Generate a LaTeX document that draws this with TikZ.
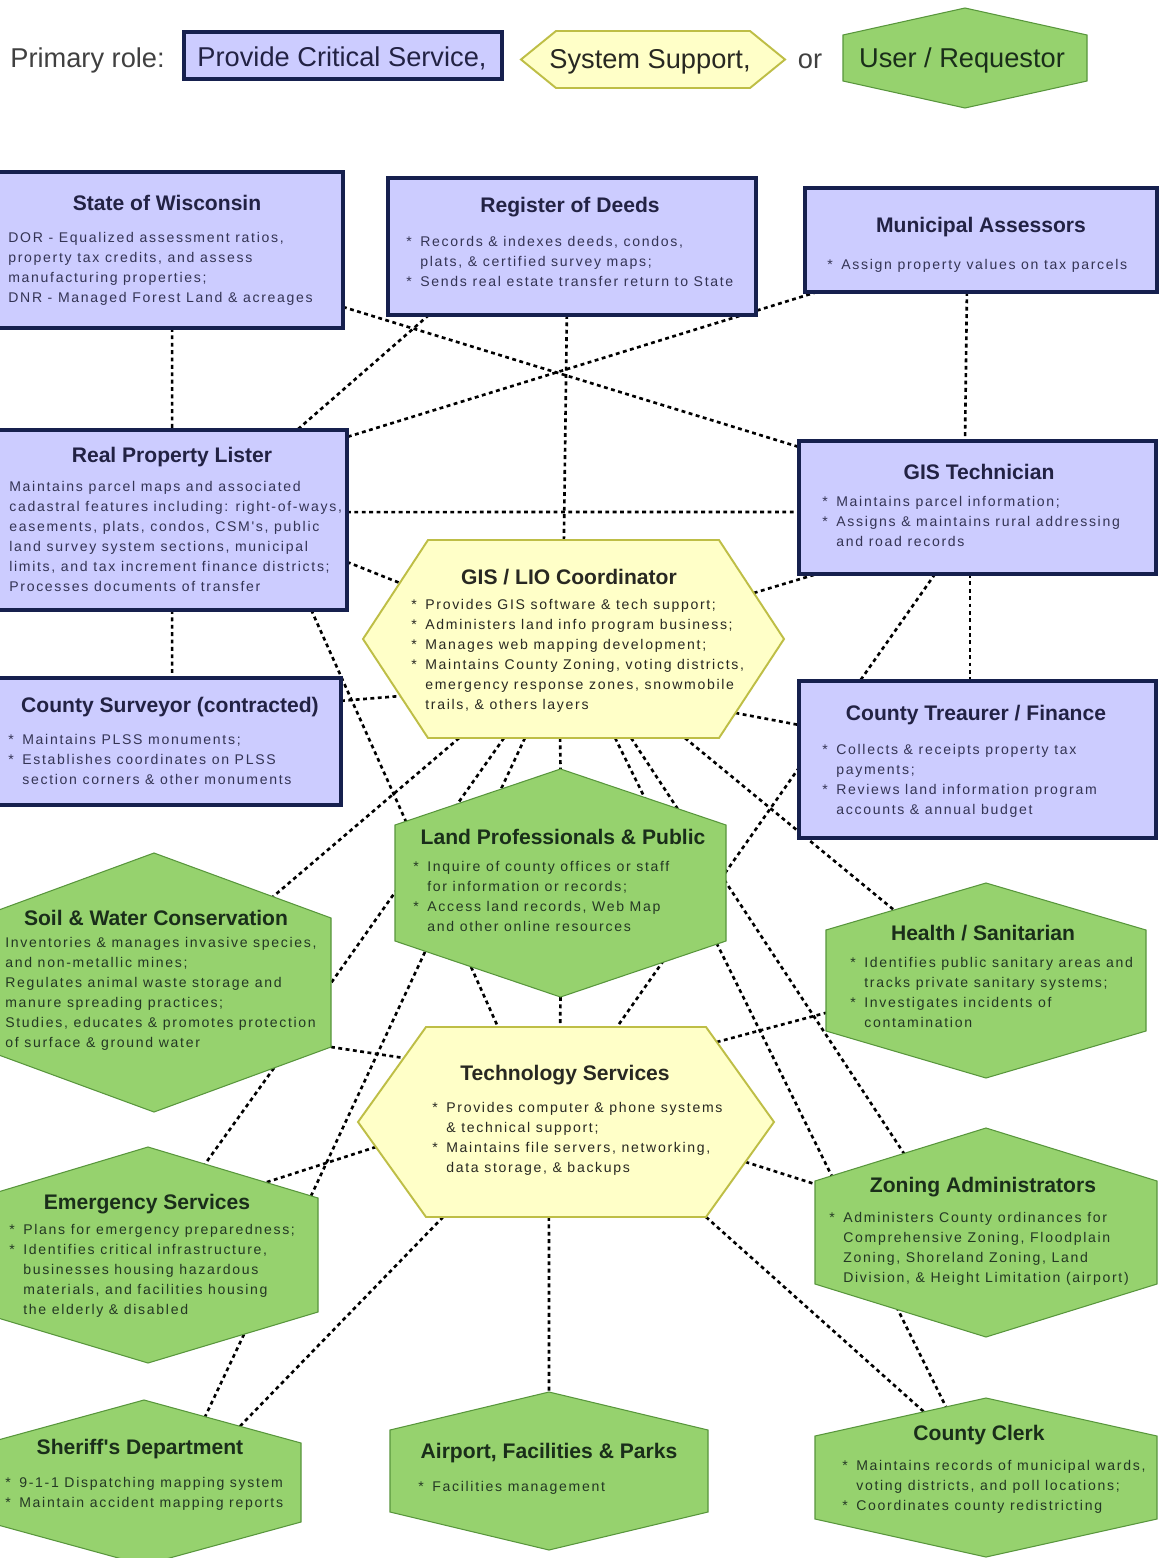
\documentclass[tikz,border=0pt]{standalone}
\usepackage{fontspec}
\setmainfont{Liberation Sans}
\newfontfamily\bodyfont[LetterSpace=12]{Liberation Sans}
\newfontfamily\headfont{Liberation Sans}
\usetikzlibrary{calc,fit}

\definecolor{critfill}{RGB}{204,204,255}
\definecolor{critline}{RGB}{22,32,78}
\definecolor{crittext}{RGB}{34,34,68}
\definecolor{critbody}{RGB}{52,52,84}
\definecolor{supfill}{RGB}{255,255,200}
\definecolor{supline}{RGB}{190,190,70}
\definecolor{suptext}{RGB}{40,40,34}
\definecolor{userfill}{RGB}{150,210,110}
\definecolor{userline}{RGB}{88,150,60}
\definecolor{usertext}{RGB}{26,46,26}
\definecolor{userbody}{RGB}{36,56,36}

\pgfdeclarelayer{bg}
\pgfsetlayers{bg,main}

\tikzset{
  shapebox/.style={inner sep=0pt, outer sep=0pt},
  critbox/.style={shapebox, draw=critline, line width=2.8pt, fill=critfill},
  supshape/.style={draw=supline, line width=1.1pt, fill=supfill},
  usershape/.style={draw=userline, line width=0.6pt, fill=userfill},
  conn/.style={line width=1.5pt, dash pattern=on 2.2pt off 2pt},
  headtext/.style={anchor=base, inner sep=0pt, font=\headfont\bfseries\fontsize{12}{14}\selectfont},
  bodytext/.style={anchor=north west, inner sep=0pt, align=left, font=\bodyfont\fontsize{8}{11.38}\selectfont},
  legtext/.style={anchor=base, inner sep=0pt, font=\headfont\fontsize{15.5}{18}\selectfont}
}

% hexagon pointing left and right, round a fitted node
\newcommand\suphex[2]{%
  \draw[supshape] (#1.west) -- ($(#1.north west)+(#2,0)$) coordinate (#1-nw)
    -- ($(#1.north east)-(#2,0)$) coordinate (#1-ne) -- (#1.east)
    -- ($(#1.south east)-(#2,0)$) coordinate (#1-se)
    -- ($(#1.south west)+(#2,0)$) coordinate (#1-sw) -- cycle;}
% hexagon pointing up and down, round a fitted node
\newcommand\userhex[2]{%
  \draw[usershape] (#1.north) coordinate (#1-n)
    -- ($(#1.north east)+(0,#2)$) coordinate (#1-ne)
    -- ($(#1.south east)-(0,#2)$) coordinate (#1-se)
    -- (#1.south) coordinate (#1-s)
    -- ($(#1.south west)-(0,#2)$) coordinate (#1-sw)
    -- ($(#1.north west)+(0,#2)$) coordinate (#1-nw) -- cycle;}

\newcommand\fl{\rule{0pt}{8pt}}
\newcommand\itm{\makebox[0.28cm][l]{*}}
\newcommand\cnt{\hspace*{0.28cm}}

\begin{document}
\begin{tikzpicture}[x=0.02cm, y=-0.02cm]
		%%%%% START %%%%%
		\useasboundingbox (0,0) rectangle (1160,1558);
		\clip (0,0) rectangle (1160,1558);
		
		% legend
		\node[legtext, anchor=base west, text=black!75] (lg-role) at (10,68) {Primary role:};
		\node[critbox, fit={(184,32) (502,79)}] (lg-crit) {};
		\node[legtext, text=crittext] (lg-crit-t) at (342,67) {Provide Critical Service,};
		\node[shapebox, fit={(521,31) (785,88)}] (lg-sup) {};
		\suphex{lg-sup}{35}
		\node[legtext, text=suptext] (lg-sup-t) at (650,69) {System Support,};
		\node[legtext, text=black!75] (lg-or) at (810,69) {or};
		\node[shapebox, fit={(843,8) (1087,108)}] (lg-user) {};
		\userhex{lg-user}{27}
		\node[legtext, text=usertext] (lg-user-t) at (962,68) {User / Requestor};
		
		% critical service boxes
		\node[critbox, fit={(-10,172) (343,328)}] (state) {};
		\node[critbox, fit={(388,178) (756,315)}] (deeds) {};
		\node[critbox, fit={(805,188) (1157,292)}] (assessors) {};
		\node[critbox, fit={(-10,430) (347,610)}] (lister) {};
		\node[critbox, fit={(799,441) (1156,574)}] (techn) {};
		\node[critbox, fit={(-10,678) (341,805)}] (surveyor) {};
		\node[critbox, fit={(799,681) (1156,838)}] (treasurer) {};
		
		% system support
		\node[shapebox, fit={(363,540) (784,738)}] (lio) {};
		\suphex{lio}{65}
		\node[shapebox, fit={(358,1027) (774,1217)}] (itsvc) {};
		\suphex{itsvc}{68}
		
		% users
		\node[shapebox, fit={(395,769) (726,997)}] (landpro) {};
		\userhex{landpro}{56}
		\node[shapebox, fit={(-23,853) (331,1112)}] (soil) {};
		\userhex{soil}{65}
		\node[shapebox, fit={(-22,1147) (318,1363)}] (emerg) {};
		\userhex{emerg}{51}
		\node[shapebox, fit={(-13,1400) (301,1565)}] (sheriff) {};
		\userhex{sheriff}{43}
		\node[shapebox, fit={(390,1392) (708,1550)}] (airport) {};
		\userhex{airport}{38}
		\node[shapebox, fit={(826,883) (1146,1078)}] (health) {};
		\userhex{health}{47}
		\node[shapebox, fit={(815,1128) (1157,1337)}] (zoning) {};
		\userhex{zoning}{53}
		\node[shapebox, fit={(815,1398) (1157,1557)}] (clerk) {};
		\userhex{clerk}{38}
		
		% texts
		\node[headtext, text=crittext] (state-t) at (167,210.5) {State of Wisconsin};
		\node[bodytext, text=critbody] (state-b) at (8,228.5) {\fl DOR - Equalized assessment ratios,\\property tax credits, and assess\\manufacturing properties;\\DNR - Managed Forest Land \& acreages};
		\node[headtext, text=crittext] (deeds-t) at (570,212.5) {Register of Deeds};
		\node[bodytext, text=critbody] (deeds-b) at (406,232.5) {\fl\itm Records \& indexes deeds, condos,\\\cnt plats, \& certified survey maps;\\\itm Sends real estate transfer return to State};
		\node[headtext, text=crittext] (assessors-t) at (981,232.5) {Municipal Assessors};
		\node[bodytext, text=critbody] (assessors-b) at (827,255.5) {\fl\itm Assign property values on tax parcels};
		\node[headtext, text=crittext] (lister-t) at (172,462.5) {Real Property Lister};
		\node[bodytext, text=critbody] (lister-b) at (9,477.5) {\fl Maintains parcel maps and associated\\cadastral features including: right-of-ways,\\easements, plats, condos, CSM's, public\\land survey system sections, municipal\\limits, and tax increment finance districts;\\Processes documents of transfer};
		\node[headtext, text=crittext] (techn-t) at (979,479.5) {GIS Technician};
		\node[bodytext, text=critbody] (techn-b) at (822,492.5) {\fl\itm Maintains parcel information;\\\itm Assigns \& maintains rural addressing\\\cnt and road records};
		\node[headtext, text=crittext] (surveyor-t) at (170,712.5) {County Surveyor (contracted)};
		\node[bodytext, text=critbody] (surveyor-b) at (8,730.5) {\fl\itm Maintains PLSS monuments;\\\itm Establishes coordinates on PLSS\\\cnt section corners \& other monuments};
		\node[headtext, text=crittext] (treasurer-t) at (976,720.5) {County Treaurer / Finance};
		\node[bodytext, text=critbody] (treasurer-b) at (822,740.5) {\fl\itm Collects \& receipts property tax\\\cnt payments;\\\itm Reviews land information program\\\cnt accounts \& annual budget};
		
		\node[headtext, text=suptext] (lio-t) at (569,584.5) {GIS / LIO Coordinator};
		\node[bodytext, text=suptext] (lio-b) at (411,595.5) {\fl\itm Provides GIS software \& tech support;\\\itm Administers land info program business;\\\itm Manages web mapping development;\\\itm Maintains County Zoning, voting districts,\\\cnt emergency response zones, snowmobile\\\cnt trails, \& others layers};
		\node[headtext, text=suptext] (itsvc-t) at (565,1080.5) {Technology Services};
		\node[bodytext, text=suptext] (itsvc-b) at (432,1098.5) {\fl\itm Provides computer \& phone systems\\\cnt \& technical support;\\\itm Maintains file servers, networking,\\\cnt data storage, \& backups};
		
		\node[headtext, text=usertext] (landpro-t) at (563,844.5) {Land Professionals \& Public};
		\node[bodytext, text=userbody] (landpro-b) at (413,857.5) {\fl\itm Inquire of county offices or staff\\\cnt for information or records;\\\itm Access land records, Web Map\\\cnt and other online resources};
		\node[headtext, text=usertext] (soil-t) at (156,925.5) {Soil \& Water Conservation};
		\node[bodytext, text=userbody] (soil-b) at (5,933.5) {\fl Inventories \& manages invasive species,\\and non-metallic mines;\\Regulates animal waste storage and\\manure spreading practices;\\Studies, educates \& promotes protection\\of surface \& ground water};
		\node[headtext, text=usertext] (emerg-t) at (147,1209.5) {Emergency Services};
		\node[bodytext, text=userbody] (emerg-b) at (9,1220.5) {\fl\itm Plans for emergency preparedness;\\\itm Identifies critical infrastructure,\\\cnt businesses housing hazardous\\\cnt materials, and facilities housing\\\cnt the elderly \& disabled};
		\node[headtext, text=usertext] (sheriff-t) at (140,1454.5) {Sheriff's Department};
		\node[bodytext, text=userbody] (sheriff-b) at (5,1473.5) {\fl\itm 9-1-1 Dispatching mapping system\\\itm Maintain accident mapping reports};
		\node[headtext, text=usertext] (airport-t) at (549,1458.5) {Airport, Facilities \& Parks};
		\node[bodytext, text=userbody] (airport-b) at (418,1477.5) {\fl\itm Facilities management};
		\node[headtext, text=usertext] (health-t) at (983,940.5) {Health / Sanitarian};
		\node[bodytext, text=userbody] (health-b) at (850,953.5) {\fl\itm Identifies public sanitary areas and\\\cnt tracks private sanitary systems;\\\itm Investigates incidents of\\\cnt contamination};
		\node[headtext, text=usertext] (zoning-t) at (983,1192.5) {Zoning Administrators};
		\node[bodytext, text=userbody] (zoning-b) at (829,1208.5) {\fl\itm Administers County ordinances for\\\cnt Comprehensive Zoning, Floodplain\\\cnt Zoning, Shoreland Zoning, Land\\\cnt Division, \& Height Limitation (airport)};
		\node[headtext, text=usertext] (clerk-t) at (979,1440.5) {County Clerk};
		\node[bodytext, text=userbody] (clerk-b) at (842,1456.5) {\fl\itm Maintains records of municipal wards,\\\cnt voting districts, and poll locations;\\\itm Coordinates county redistricting};
		
		% connectors, under the shapes
		\begin{pgfonlayer}{bg}
		\fill[white] (0,0) rectangle (1160,1558);
		\draw[conn] ($(state.south west)!.516!(state.south east)$) -- ($(lister.north west)!.51!(lister.north east)$);
		\draw[conn] ($(state.north east)!.865!(state.south east)$) -- ($(techn.north west)!.045!(techn.south west)$);
		\draw[conn] ($(deeds.south west)!.486!(deeds.south east)$) -- ($(lio-nw)!.467!(lio-ne)$);
		\draw[conn] ($(deeds.south west)!.111!(deeds.south east)$) -- ($(lister.north west)!.86!(lister.north east)$);
		\draw[conn] ($(assessors.south west)!.034!(assessors.south east)$) -- ($(lister.north east)!.039!(lister.south east)$);
		\draw[conn] ($(assessors.south west)!.46!(assessors.south east)$) -- ($(techn.north west)!.465!(techn.north east)$);
		
		\draw[conn] ($(lister.north east)!.456!(lister.south east)$) -- ($(techn.north west)!.534!(techn.south west)$);
		\draw[conn] ($(lister.north east)!.733!(lister.south east)$) -- ($(lio.west)!.566!(lio-nw)$);
		\draw[conn] ($(lister.south west)!.51!(lister.south east)$) -- ($(surveyor.north west)!.519!(surveyor.north east)$);
		\draw[conn] ($(lister.south west)!.9!(lister.south east)$) -- ($(itsvc-nw)!.257!(itsvc-ne)$);
		\draw[conn] ($(surveyor.north east)!.18!(surveyor.south east)$) -- ($(lio.west)!.576!(lio-sw)$);
		
		\draw[conn] ($(lio-sw)!.107!(lio-se)$) -- ($(soil-n)!.672!(soil-ne)$);
		\draw[conn] ($(lio-sw)!.261!(lio-se)$) -- ($(soil-ne)!.504!(soil-se)$);
		\draw[conn] ($(lio-sw)!.333!(lio-se)$) -- ($(emerg-n)!.959!(emerg-ne)$);
		\draw[conn] ($(lio-sw)!.454!(lio-se)$) -- (landpro-n);
		\draw[conn] ($(lio-sw)!.643!(lio-se)$) -- ($(clerk-nw)!.766!(clerk-n)$);
		\draw[conn] ($(lio-sw)!.698!(lio-se)$) -- ($(zoning-nw)!.52!(zoning-n)$);
		\draw[conn] ($(lio-sw)!.883!(lio-se)$) -- ($(health-nw)!.425!(health-n)$);
		\draw[conn] ($(lio.east)!.747!(lio-se)$) -- ($(treasurer.north west)!.28!(treasurer.south west)$);
		\draw[conn] ($(lio-ne)!.535!(lio.east)$) -- ($(techn.south west)!.05!(techn.south east)$);
		
		\draw[conn] ($(techn.south west)!.381!(techn.south east)$) -- ($(itsvc-nw)!.682!(itsvc-ne)$);
		\draw[conn] ($(techn.south west)!.479!(techn.south east)$) -- ($(treasurer.north west)!.479!(treasurer.north east)$);
		\draw[conn] (landpro-s) -- ($(itsvc-nw)!.479!(itsvc-ne)$);
		
		\draw[conn] (soil-se) -- ($(itsvc.west)!.674!(itsvc-nw)$);
		\draw[conn] ($(soil-se)!.322!(soil-s)$) -- ($(emerg-n)!.335!(emerg-ne)$);
		\draw[conn] ($(itsvc.west)!.263!(itsvc-sw)$) -- ($(emerg-n)!.694!(emerg-ne)$);
		\draw[conn] ($(emerg-se)!.435!(emerg-s)$) -- ($(sheriff-n)!.389!(sheriff-ne)$);
		\draw[conn] ($(itsvc-sw)!.061!(itsvc-se)$) -- ($(sheriff-n)!.611!(sheriff-ne)$);
		\draw[conn] ($(itsvc-sw)!.439!(itsvc-se)$) -- (airport-n);
		\draw[conn] ($(itsvc-ne)!.158!(itsvc.east)$) -- ($(health-nw)!.82!(health-sw)$);
		\draw[conn] ($(itsvc.east)!.42!(itsvc-se)$) -- ($(zoning-nw)!.03!(zoning-sw)$);
		\draw[conn] (itsvc-se) -- ($(clerk-nw)!.637!(clerk-n)$);
		\end{pgfonlayer}
		
		%%%%% END %%%%%
\end{tikzpicture}
\end{document}
